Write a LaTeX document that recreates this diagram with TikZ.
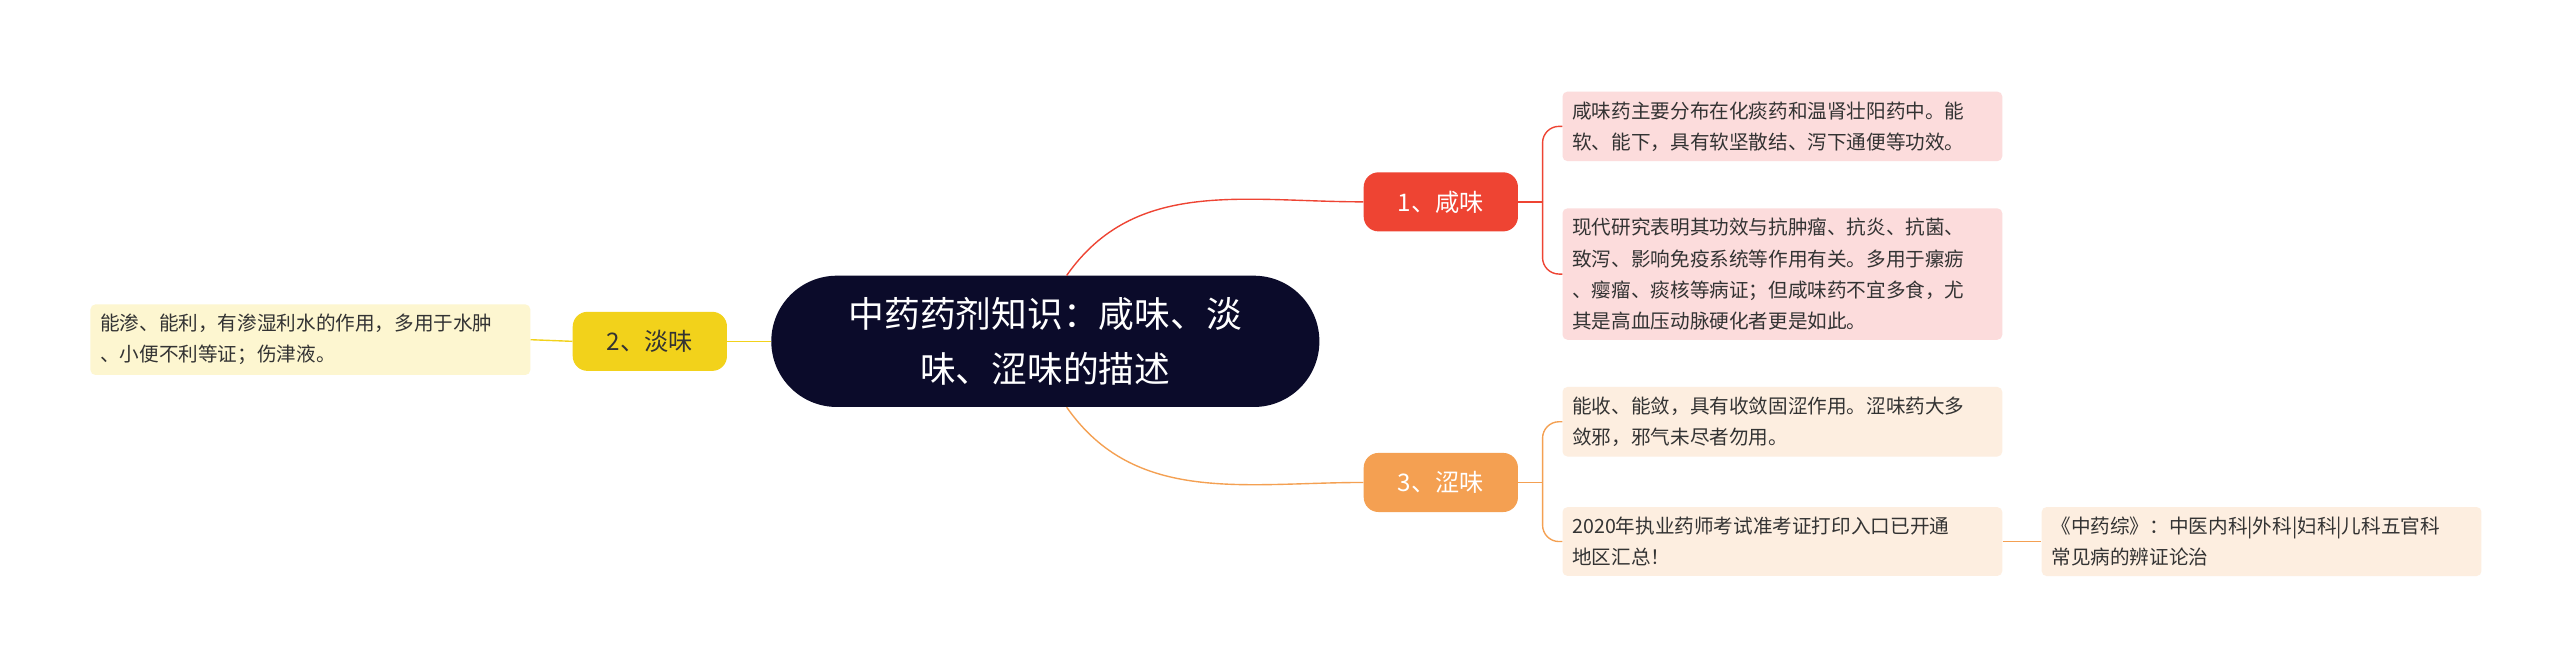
\documentclass[tikz,border=0pt]{standalone}
\usepackage{fontspec}
\setmainfont{Noto Sans CJK SC}
\XeTeXlinebreaklocale "zh"
\XeTeXlinebreakskip=0pt plus 1pt
\begin{document}
\begin{tikzpicture}[x=0.5mm,y=-0.5mm,
  pill/.style={rounded corners=4.5mm,minimum width=47mm,minimum height=18mm,text=white,font=\fontsize{21}{25}\selectfont},
  leaf/.style={rounded corners=1.5mm,anchor=west,inner sep=3mm,text width=128mm,align=left,text=black!80,font=\fontsize{17}{27}\selectfont},
  conn/.style={line width=1.2pt}]
\useasboundingbox[fill=white] (0,0) rectangle (1560,406);
\definecolor{rootc}{HTML}{0B0B2A}
\definecolor{redc}{HTML}{EE4433}
\definecolor{yelc}{HTML}{F2D21B}
\definecolor{orac}{HTML}{F4A052}
\definecolor{pinkf}{HTML}{FCDCDC}
\definecolor{yelf}{HTML}{FDF6D0}
\definecolor{oraf}{HTML}{FDEEE0}
\node[rounded corners=20mm,fill=rootc,minimum width=167mm,minimum height=40mm,text=white,align=center,font=\fontsize{31}{47}\selectfont] (root) at (637,208) {中药药剂知识：咸味、淡\\味、涩味的描述};
\node[pill,fill=redc] (k1) at (878,123) {1、咸味};
\node[pill,fill=yelc,text=black!80] (k2) at (396,208) {2、淡味};
\node[pill,fill=orac] (k3) at (878,294) {3、涩味};
\node[leaf,fill=pinkf] (l1) at (952,77) {咸味药主要分布在化痰药和温肾壮阳药中。能\\软、能下，具有软坚散结、泻下通便等功效。};
\node[leaf,fill=pinkf] (l2) at (952,167) {现代研究表明其功效与抗肿瘤、抗炎、抗菌、\\致泻、影响免疫系统等作用有关。多用于瘰疬\\、瘿瘤、痰核等病证；但咸味药不宜多食，尤\\其是高血压动脉硬化者更是如此。};
\node[leaf,fill=yelf] (l3) at (55,207) {能渗、能利，有渗湿利水的作用，多用于水肿\\、小便不利等证；伤津液。};
\node[leaf,fill=oraf] (l4) at (952,257) {能收、能敛，具有收敛固涩作用。涩味药大多\\敛邪，邪气未尽者勿用。};
\node[leaf,fill=oraf] (l5) at (952,330) {2020年执业药师考试准考证打印入口已开通\\地区汇总！};
\node[leaf,fill=oraf] (l6) at (1244,330) {《中药综》：中医内科|外科|妇科|儿科五官科\\常见病的辨证论治};
\draw[conn,redc] ([xshift=6.5mm]root.north) to[out=55,in=180] (k1.west);
\draw[conn,orac] ([xshift=6.5mm]root.south) to[out=-55,in=180] (k3.west);
\draw[conn,yelc] (root.west) -- (k2.east);
\draw[conn,yelc] (k2.west) -- (l3.east);
\coordinate (b1) at (940,123);
\coordinate (b3) at (940,294);
\draw[conn,redc] (k1.east) -- (b1);
\draw[conn,redc,rounded corners=5mm] (b1) |- (l1.west);
\draw[conn,redc,rounded corners=5mm] (b1) |- (l2.west);
\draw[conn,orac] (k3.east) -- (b3);
\draw[conn,orac,rounded corners=5mm] (b3) |- (l4.west);
\draw[conn,orac,rounded corners=5mm] (b3) |- (l5.west);
\draw[conn,orac] (l5.east) -- (l6.west);
\end{tikzpicture}
\end{document}
